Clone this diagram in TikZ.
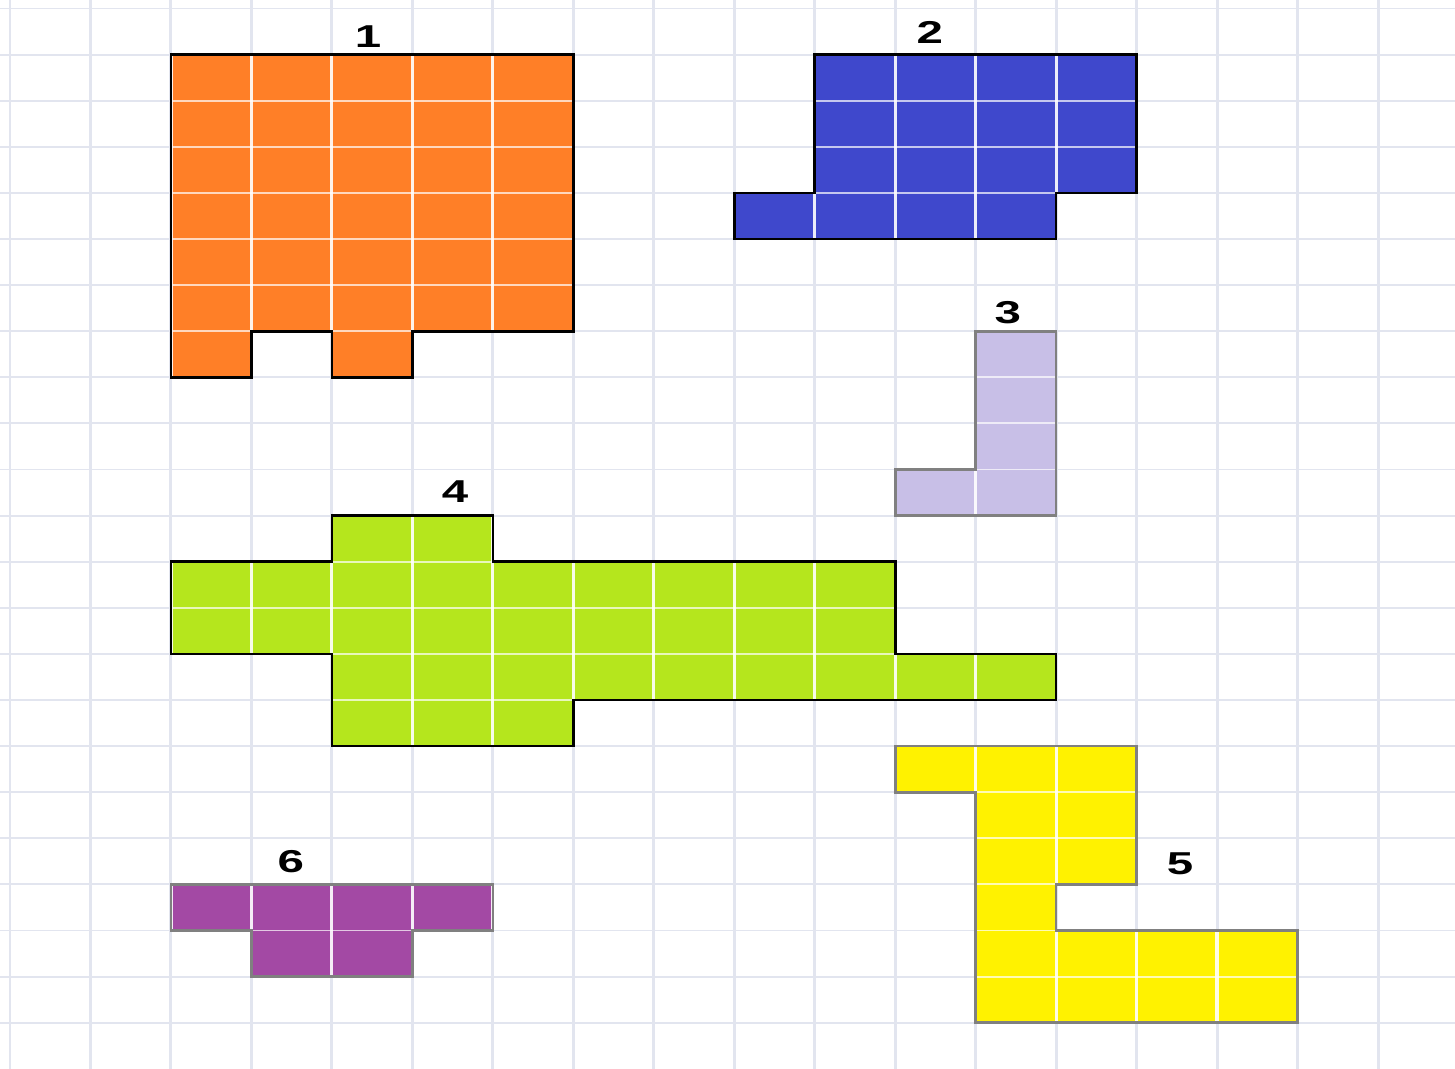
\documentclass[tikz,border=0pt]{standalone}
\usepackage{fontspec}
\setmainfont{Liberation Sans}
\definecolor{setkacol}{HTML}{E2E5EF}
\definecolor{oranzh}{HTML}{FF7F27}
\definecolor{siniy}{HTML}{3F48CC}
\definecolor{lilov}{HTML}{C8BFE7}
\definecolor{salat}{HTML}{B5E61D}
\definecolor{zholt}{HTML}{FFF200}
\definecolor{fiolet}{HTML}{A349A4}
\newcommand{\kletki}[3]{%
  \fill[#1] #3 -- cycle;
  \begin{scope}
    \clip #3 -- cycle;
    \foreach \i in {1,...,16} \draw[vnutrv] (\i,0) -- (\i,23);
    \foreach \j in {1,...,22} \draw[vnutrg] (0,\j) -- (17,\j);
  \end{scope}
  \draw[kontur,#2] #3 -- cycle;}
\begin{document}
\begin{tikzpicture}[x=0.8047cm,y=-0.461cm,
   vnutrv/.style={white,opacity=0.9,line width=0.9pt},
   vnutrg/.style={white,opacity=0.7,line width=0.55pt},
   kontur/.style={line width=0.75pt,line join=miter},
   nomer/.style={font=\bfseries\fontsize{9}{10}\selectfont,xscale=1.5,inner sep=0pt}]
   \useasboundingbox (-0.1243,-0.1844) rectangle (17.957,22.983);
   \fill[white] (-0.1243,-0.1844) rectangle (17.957,22.983);
   % сетка
   \foreach \i in {0,...,17}
   \draw[setkacol,line width=0.85pt] (\i,-0.2) -- (\i,23);
   \foreach \j in {0,...,22}
   \draw[setkacol,line width=0.55pt] (-0.13,\j) -- (17.96,\j);
   % фигуры
   \kletki{oranzh}{black}{(2,1) -- (7,1) -- (7,7) -- (5,7) -- (5,8) -- (4,8) -- (4,7) -- (3,7) -- (3,8) -- (2,8)}
   \kletki{siniy}{black}{(10,1) -- (14,1) -- (14,4) -- (13,4) -- (13,5) -- (9,5) -- (9,4) -- (10,4)}
   \kletki{lilov}{gray}{(12,7) -- (13,7) -- (13,11) -- (11,11) -- (11,10) -- (12,10)}
   \kletki{salat}{black}{(4,11) -- (6,11) -- (6,12) -- (11,12) -- (11,14) -- (13,14) -- (13,15) -- (7,15) -- (7,16) -- (4,16) -- (4,14) -- (2,14) -- (2,12) -- (4,12)}
   \kletki{zholt}{gray}{(11,16) -- (14,16) -- (14,19) -- (13,19) -- (13,20) -- (16,20) -- (16,22) -- (12,22) -- (12,17) -- (11,17)}
   \kletki{fiolet}{gray}{(2,19) -- (6,19) -- (6,20) -- (5,20) -- (5,21) -- (3,21) -- (3,20) -- (2,20)}
   % номера
   \node[nomer] (n1) at (4.45,0.62) {1};
   \node[nomer] (n2) at (11.43,0.51) {2};
   \node[nomer] (n3) at (12.40,6.60) {3};
   \node[nomer] (n4) at (5.53,10.49) {4};
   \node[nomer] (n5) at (14.54,18.56) {5};
   \node[nomer] (n6) at (3.49,18.51) {6};
\end{tikzpicture}
\end{document}
